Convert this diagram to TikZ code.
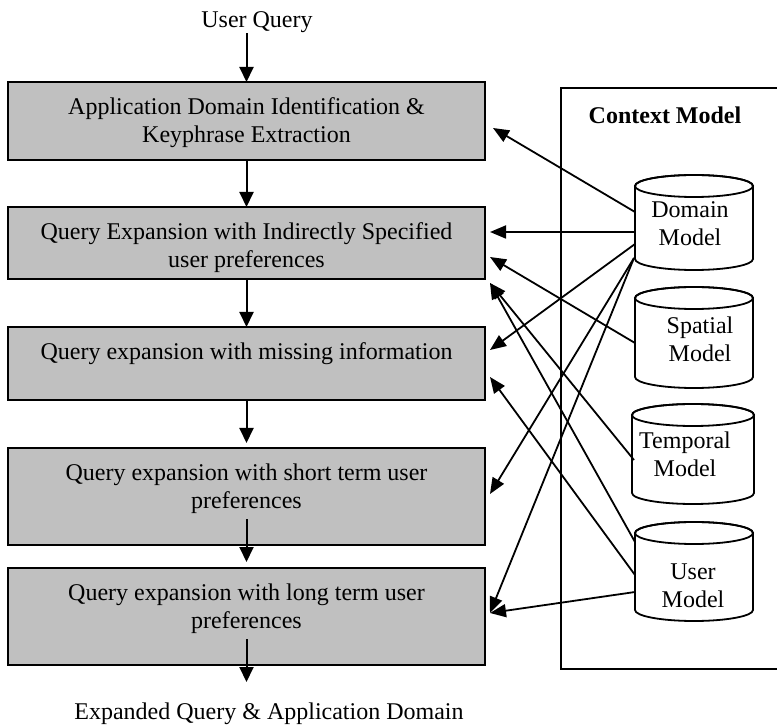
\documentclass[tikz,border=0pt]{standalone}
\usepackage{fontspec}
\setmainfont{Liberation Serif}
\usetikzlibrary{arrows.meta,calc}
\definecolor{boxgray}{RGB}{192,192,192}
\newcommand\drawcyl[2]{%
  \draw[cylline, fill=white] (#1.north west) -- (#1.south west)
    arc[start angle=180,end angle=360,x radius=#2,y radius=11]
    -- (#1.north east)
    arc[start angle=0,end angle=180,x radius=#2,y radius=11] -- cycle;
  \draw[cylline] (#1.north) ellipse[x radius=#2,y radius=11];}
\begin{document}
\begin{tikzpicture}[x=1pt,y=1pt,
  every node/.style={font=\fontsize{24}{28}\selectfont, inner sep=0pt, outer sep=0pt},
  procbox/.style={draw, line width=2pt, fill=boxgray, minimum width=477pt, anchor=north west},
  boxtext/.style={anchor=north, align=center},
  flow/.style={line width=2pt, -{Triangle[length=15pt,width=14pt]}},
  link/.style={line width=1.8pt, -{Triangle[length=16pt,width=13pt]}},
  cylbody/.style={minimum width=118pt, anchor=north west},
  cylline/.style={line width=1.8pt},
  cyltext/.style={align=center},
  frame/.style={line width=2pt}
]
\useasboundingbox (0,0) rectangle (777,724);

% context model frame
\coordinate (ctxNW) at (561,636);
\coordinate (ctxSW) at (561,55);
\coordinate (ctxNE) at (777,636);
\coordinate (ctxSE) at (777,55);
\draw[frame] (ctxNE) -- (ctxNW) -- (ctxSW) -- (ctxSE);
\node[font=\fontsize{24}{28}\selectfont\bfseries, anchor=base] (cm) at (665,600) {Context Model};

% process boxes
\node[procbox, minimum height=78pt] (b1) at (8,642) {};
\node[procbox, minimum height=72pt] (b2) at (8,517) {};
\node[procbox, minimum height=73pt] (b3) at (8,397) {};
\node[procbox, minimum height=97pt] (b4) at (8,276) {};
\node[procbox, minimum height=97pt] (b5) at (8,156) {};

\node[boxtext] (t1) at ($(b1.north)+(0,-15.5)$) {Application Domain Identification \&\\Keyphrase Extraction};
\node[boxtext] (t2) at ($(b2.north)+(0,-15.5)$) {Query Expansion with Indirectly Specified\\user preferences};
\node[boxtext] (t3) at ($(b3.north)+(0,-15.5)$) {Query expansion with missing information};
\node[boxtext] (t4) at ($(b4.north)+(0,-15.5)$) {Query expansion with short term user\\preferences};
\node[boxtext] (t5) at ($(b5.north)+(0,-15.5)$) {Query expansion with long term user\\preferences};

\node[anchor=base] (uq) at (257,696) {User Query};
\node[anchor=base] (ex) at (269,5) {Expanded Query \& Application Domain};

% flow arrows
\draw[flow] (b1.north |- uq.south) -- (b1.north);
\draw[flow] (b1.south) -- (b2.north);
\draw[flow] (b2.south) -- (b3.north);
\draw[flow, shorten >=5pt] (b3.south) -- (b4.north);
\draw[flow, shorten >=6pt] (b4.south |- t4.south) ++(0,-6) -- (b5.north);
\draw[flow] ($(b5.south |- t5.south)+(0,-6)$) -- ($(b5.south)+(0,-17)$);

% cylinders
\node[cylbody, minimum height=73pt] (dom) at (635,538) {};
\node[cylbody, minimum height=79pt] (spa) at (635,426) {};
\node[cylbody, minimum width=122pt, minimum height=78pt] (tem) at (632,309) {};
\node[cylbody, minimum height=77pt] (usr) at (635,191) {};
\drawcyl{dom}{59}
\drawcyl{spa}{59}
\drawcyl{tem}{61}
\drawcyl{usr}{59}
\node[cyltext] (domt) at (690,500.5) {Domain\\Model};
\node[cyltext] (spat) at (700,385) {Spatial\\Model};
\node[cyltext] (temt) at (685,270) {Temporal\\Model};
\node[cyltext] (usrt) at (693,138.5) {User\\Model};

% context links
\draw[link] ($(dom.north west)+(0,-26)$) -- ($(b1.north east)+(8,-46)$);
\draw[link] ($(dom.north west)+(0,-46)$) -- ($(b2.north east)+(5,-25)$);
\draw[link] ($(dom.north west)+(0,-58)$) -- ($(b3.north east)+(5,-23)$);
\draw[link] ($(dom.south west)+(-1,1)$) -- ($(b4.north east)+(5,-46)$);
\draw[link] ($(dom.south west)+(-1,1)$) -- ($(b5.north east)+(5,-45)$);
\draw[link] ($(spa.north west)+(0,-45)$) -- ($(b2.north east)+(5,-50)$);
\draw[link] ($(tem.north west)+(2,-45)$) -- ($(b2.north east)+(5,-76)$);
\draw[link] ($(usr.north west)+(0,-9)$) -- ($(b2.north east)+(5,-76)$);
\draw[link] ($(usr.north west)+(0,-42)$) -- ($(b3.north east)+(5,-50)$);
\draw[link] ($(usr.north west)+(0,-59)$) -- ($(b5.north east)+(5,-45)$);
\end{tikzpicture}
\end{document}
